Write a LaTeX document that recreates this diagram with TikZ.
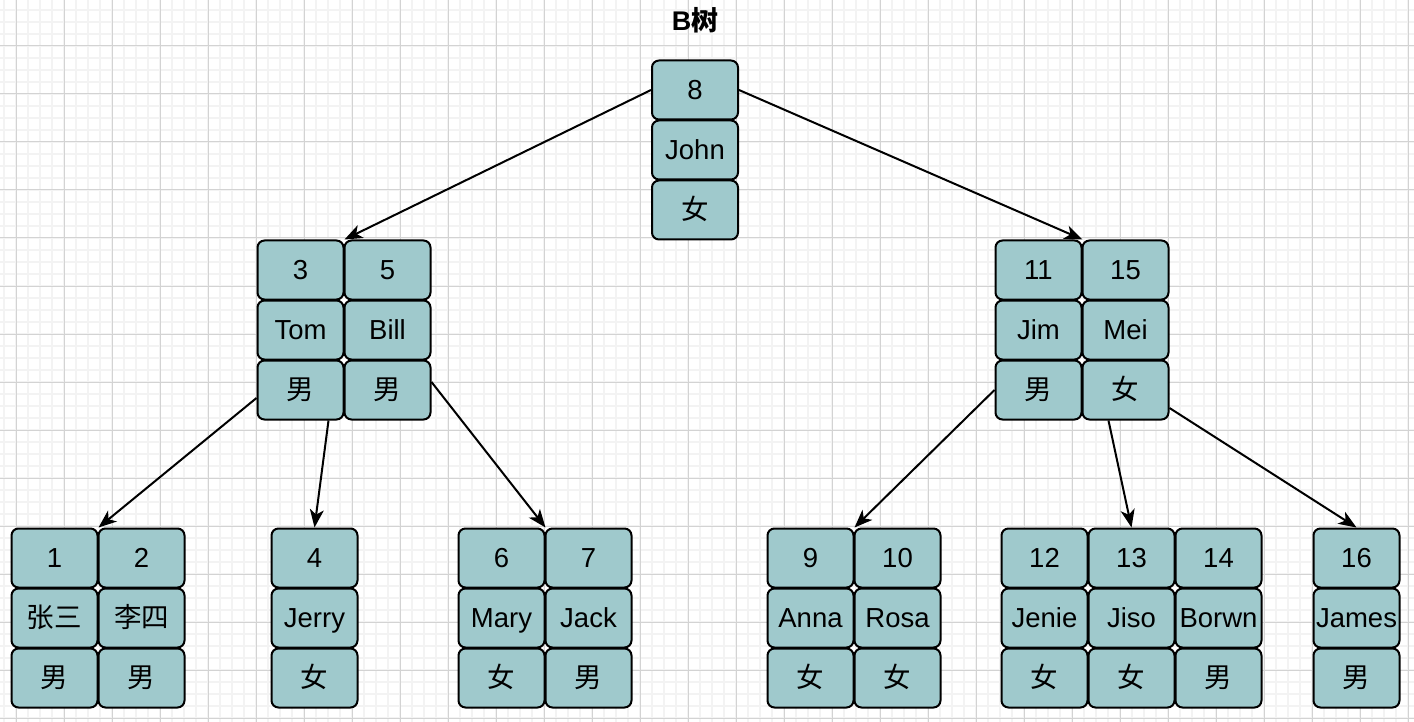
\documentclass[tikz,border=0pt]{standalone}
\usepackage{fontspec}
\setmainfont{Liberation Sans}
\newfontfamily\cjk{Noto Sans CJK SC}
\usepackage{xcolor}
\usepackage{tikz}
\usetikzlibrary{arrows.meta}
\definecolor{cellfill}{HTML}{9FC9CC}
\definecolor{minorgrid}{HTML}{F3F3F3}
\definecolor{majorgrid}{HTML}{D3D3D3}

\begin{document}
\begin{tikzpicture}[x=1pt, y=-1pt,
    cell/.style={draw, line width=2pt, rounded corners=7pt, fill=cellfill,
      minimum width=86pt, minimum height=59pt, inner sep=0pt,
      text height=19pt, text depth=0pt,
      font=\fontsize{27.5}{30}\selectfont},
    link/.style={line width=2pt, -{Stealth[length=18pt, width=14pt, inset=5pt]}}]
  \useasboundingbox (0,0) rectangle (1414,722);
  \fill[white] (0,0) rectangle (1414,722);
  % grid
  \foreach \gx in {4,16,...,1414} \draw[minorgrid, line width=1.5pt] (\gx,0) -- (\gx,722);
  \foreach \gy in {10,22,...,722} \draw[minorgrid, line width=1.5pt] (0,\gy) -- (1414,\gy);
  \foreach \gx in {16,64,...,1414} \draw[majorgrid, line width=1pt] (\gx,0) -- (\gx,722);
  \foreach \gy in {46,94,...,722} \draw[majorgrid, line width=1pt] (0,\gy) -- (1414,\gy);

  \node[font=\fontsize{27}{30}\selectfont\bfseries] (title) at (695,20) {B{\cjk\bfseries 树}};

  % key / name / sex columns
  \foreach \n/\x/\y/\k/\who/\sex in {
      r8/695/90/8/John/{\cjk 女},
      n3/300.5/270/3/Tom/{\cjk 男}, n5/387.5/270/5/Bill/{\cjk 男},
      n11/1038.5/270/11/Jim/{\cjk 男}, n15/1125.5/270/15/Mei/{\cjk 女},
      n1/54.5/558/1/{\cjk 张三}/{\cjk 男}, n2/141.5/558/2/{\cjk 李四}/{\cjk 男},
      n4/314.5/558/4/Jerry/{\cjk 女},
      n6/501.5/558/6/Mary/{\cjk 女}, n7/588.5/558/7/Jack/{\cjk 男},
      n9/810.5/558/9/Anna/{\cjk 女}, n10/897.5/558/10/Rosa/{\cjk 女},
      n12/1044.5/558/12/Jenie/{\cjk 女}, n13/1131.5/558/13/Jiso/{\cjk 女},
      n14/1218.5/558/14/Borwn/{\cjk 男},
      n16/1356.5/558/16/James/{\cjk 男}} {
    \node[cell] (\n-k) at (\x,\y) {\k};
    \node[cell] (\n-n) at (\x,\y+60) {\who};
    \node[cell] (\n-s) at (\x,\y+120) {\sex};
  }

  \draw[link] (r8-k.west) -- (n3-k.north east);
  \draw[link] (r8-k.east) -- (n11-k.north east);
  \draw[link] ([yshift=-8pt]n3-s.west) -- (n1-k.north east);
  \draw[link] ([xshift=28pt]n3-s.south) -- (n4-k.north);
  \draw[link] ([yshift=8pt]n5-s.east) -- (n6-k.north east);
  \draw[link] (n11-s.west) -- (n9-k.north east);
  \draw[link] ([xshift=-17pt]n15-s.south) -- (n13-k.north);
  \draw[link] ([yshift=-18pt]n15-s.east) -- (n16-k.north);
\end{tikzpicture}
\end{document}
